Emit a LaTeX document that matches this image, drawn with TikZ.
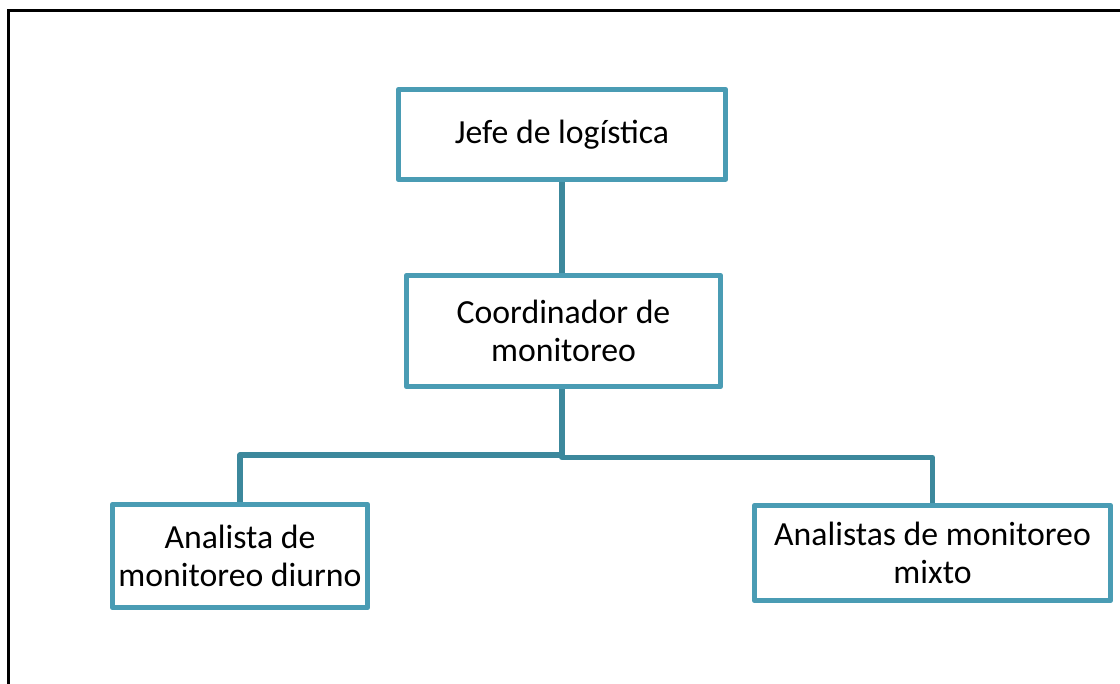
\documentclass[tikz,border=0pt]{standalone}
\usepackage{fontspec}
\setmainfont{Carlito}
\usepackage{xcolor}
\usepackage{tikz}
\usetikzlibrary{positioning, calc}
\definecolor{boxteal}{RGB}{74, 156, 180}
\definecolor{lineteal}{RGB}{60, 136, 156}

\begin{document}
\begin{tikzpicture}[x=0.025cm, y=-0.025cm,
    orgbox/.style={draw=boxteal, line width=3.6pt, fill=white, line join=round,
        align=center, inner sep=0pt, font=\fontsize{24}{26.5}\selectfont},
    link/.style={draw=lineteal, line width=3.6pt, line join=round}]
    % Frame
    \clip (0,0) rectangle (1120,684);
    \draw[line width=2pt] (8.5,10.5) rectangle (1140,720);

    % Boxes
    \node[orgbox, minimum width=8.18cm, minimum height=2.25cm] (jefe) at (562,134.5) {Jefe de log\'istica};
    \node[orgbox, minimum width=7.85cm, minimum height=2.78cm] (coord) at (563.5,331) {Coordinador de\\monitoreo};
    \node[orgbox, minimum width=6.38cm, minimum height=2.58cm] (diurno) at (240,556) {Analista de\\monitoreo diurno};
    \node[orgbox, minimum width=8.9cm, minimum height=2.38cm] (mixto) at (932.5,553) {Analistas de monitoreo\\mixto};

    % Connectors
    \coordinate (hub) at (562,455);
    \draw[link] (jefe.south) -- (jefe.south |- coord.north);
    \draw[link] (jefe.south |- coord.south) -- (hub) -| (diurno.north);
    \draw[link] (hub) -- ++(0,2.5) -| (mixto.north);
\end{tikzpicture}
\end{document}
